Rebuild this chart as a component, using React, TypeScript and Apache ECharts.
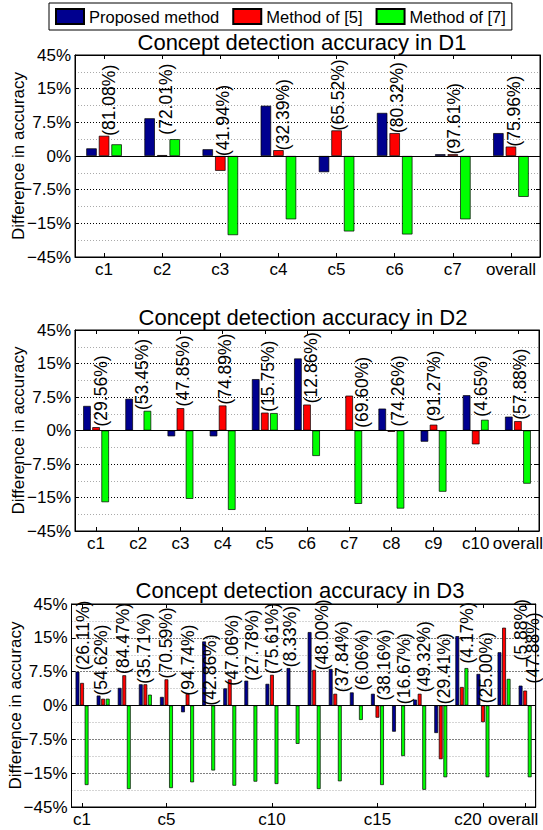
import React, { useEffect, useRef } from "react";
import * as echarts from "echarts";

const FONT = '"Liberation Sans", Arial, Helvetica, sans-serif';

const seriesNames = ["Proposed method", "Method of [5]", "Method of [7]"];
const seriesColors = ["#00008f", "#ff0000", "#00ff00"];

const yTickValues = [-45, -15, -7.5, 0, 7.5, 15, 45];
const yTickLabels = ["−45%", "−15%", "−7.5%", "0%", "7.5%", "15%", "45%"];
const yAxisTitle = "Difference in accuracy";

// ---- D1 ----
const d1Title = "Concept detection accuracy in D1";
const d1Categories = ["c1", "c2", "c3", "c4", "c5", "c6", "c7", "overall"];
const d1Proposed = [1.7, 8.4, 1.5, 11.2, -3.6, 9.6, 0.4, 5.1];
const d1Method5 = [4.5, 0.2, -3.3, 1.3, 5.7, 5.1, 0.4, 2.1];
const d1Method7 = [2.6, 3.75, -25.5, -14.1, -22.2, -24.9, -14.1, -9.1];
const d1Notes = ["(81.08%)", "(72.01%)", "(41.94%)", "(32.39%)", "(65.52%)", "(80.32%)", "(97.61%)", "(75.96%)"];
const d1NoteAt = [4.5, 4.75, 0, 1.3, 5.7, 5.1, 0.4, 2.1];
const d1NoteShift = [0.08, 0.07, 0.04, 0.07, 0.03, 0.04, 0.02, 0.05];

// ---- D2 ----
const d2Title = "Concept detection accuracy in D2";
const d2Categories = ["c1", "c2", "c3", "c4", "c5", "c6", "c7", "c8", "c9", "c10", "overall"];
const d2Proposed = [5.5, 7.1, -1.3, -1.3, 11.5, 19.5, 0, 4.9, -2.5, 7.9, 3.1];
const d2Method5 = [0.75, 0, 5.0, 5.6, 4.0, 5.8, 7.8, -0.3, 1.3, -3.1, 2.1];
const d2Method7 = [-19.2, 4.4, -16.2, -26.1, 3.9, -5.7, -20.7, -24.9, -13.7, 2.4, -11.9];
const d2Notes = ["(29.56%)", "(53.45%)", "(47.85%)", "(74.89%)", "(15.75%)", "(12.86%)", "(69.60%)", "(74.26%)", "(91.27%)", "(4.65%)", "(57.88%)"];
const d2NoteAt = [0.9, 4.6, 5.4, 5.8, 4.2, 6.1, 0.6, 0.9, 2.0, 3.1, 2.4];
const d2NoteShift = [0.12, 0.1, 0.06, 0.06, 0.07, 0.1, 0.31, 0.15, 0, 0.12, 0.05];

// ---- D3 ----
const d3Title = "Concept detection accuracy in D3";
const d3Categories = ["c1", "c2", "c3", "c4", "c5", "c6", "c7", "c8", "c9", "c10", "c11", "c12", "c13", "c14", "c15", "c16", "c17", "c18", "c19", "c20", "c21", "overall"];
const d3ShownCategories = ["c1", "c5", "c10", "c15", "c20", "overall"];
const d3Proposed = [7.5, 2.2, 3.9, 4.7, 1.9, -1.5, 14.2, 3.8, 5.5, 4.8, 8.3, 20.1, 8.1, 2.9, 2.6, -5.8, 1.3, -6.1, 16.5, 7.0, 11.8, 4.4];
const d3Method5 = [5.0, 1.5, 6.7, 4.7, 5.8, 2.6, 0, 5.8, 0, 6.8, 0, 7.9, 2.6, 0, -2.7, 0, 2.6, -11.9, 4.1, -3.7, 24.0, 3.3];
const d3Method7 = [-25.5, 1.5, -29.1, 2.4, -28.2, -23.1, -14.4, -26.1, -22.5, -24.6, -8.5, -29.1, -22.2, -3.2, -25.5, -11.2, -29.7, -18.6, 8.3, -18.6, 5.9, -18.6];
const d3Notes = ["(26.11%)", "(54.62%)", "(84.47%)", "(35.71%)", "(70.59%)", "(94.74%)", "(42.86%)", "(47.06%)", "(27.78%)", "(75.61%)", "(8.33%)", "(48.00%)", "(37.84%)", "(6.06%)", "(38.16%)", "(16.67%)", "(49.32%)", "(29.41%)", "(4.17%)", "(25.00%)", "(5.88%)", "(47.88%)"];
const d3NoteAt = [7.8, 2.2, 7.0, 4.8, 6.0, 2.2, 0, 4.4, 5.5, 7.0, 8.5, 7.8, 2.95, 3.3, 1.1, 0.3, 2.95, 0.3, 9.3, 0.5, 10, 4.9];
const d3NoteShift = [0.04, -0.1, -0.07, -0.08, 0, 0, 0.08, 0.1, 0.05, 0, -0.13, 0.37, 0.32, 0.26, 0.33, 0.27, 0.22, 0.17, 0.24, 0.14, 0.8, 0.36];

// piecewise mapping of a percentage onto the evenly spaced tick scale
function toUnit(v: number): number {
  const n = yTickValues.length;
  const mid = (n - 1) / 2;
  if (v <= yTickValues[0]) return -mid;
  for (let i = 0; i < n - 1; i++) {
    const a = yTickValues[i];
    const b = yTickValues[i + 1];
    if (v >= a && v <= b) return i + (v - a) / (b - a) - mid;
  }
  return mid;
}

type Panel = {
  title: string;
  cats: string[];
  values: number[][];
  notes: string[];
  noteAt: number[];
  noteShift: number[];
  shown: string[] | null;
  labelPad: Record<string, number>;
  left: number;
  top: number;
  width: number;
  height: number;
  titleX: number;
  titleTop: number;
};

const panels: Panel[] = [
  { title: d1Title, cats: d1Categories, values: [d1Proposed, d1Method5, d1Method7], notes: d1Notes, noteAt: d1NoteAt, noteShift: d1NoteShift, shown: null, labelPad: {}, left: 75, top: 55, width: 465, height: 202, titleX: 302, titleTop: 31 },
  { title: d2Title, cats: d2Categories, values: [d2Proposed, d2Method5, d2Method7], notes: d2Notes, noteAt: d2NoteAt, noteShift: d2NoteShift, shown: null, labelPad: {}, left: 75, top: 330, width: 464, height: 201, titleX: 303, titleTop: 306 },
  { title: d3Title, cats: d3Categories, values: [d3Proposed, d3Method5, d3Method7], notes: d3Notes, noteAt: d3NoteAt, noteShift: d3NoteShift, shown: d3ShownCategories, labelPad: { c20: 30, overall: 24 }, left: 71.5, top: 604, width: 464.2, height: 203, titleX: 300, titleTop: 579 },
];

function buildOption() {
  const mid = (yTickValues.length - 1) / 2;
  const grids: any[] = [];
  const xAxes: any[] = [];
  const yAxes: any[] = [];
  const series: any[] = [];
  const titles: any[] = [];

  panels.forEach((p, i) => {
    grids.push({ left: p.left, top: p.top, width: p.width, height: p.height, show: true, borderColor: "#000", borderWidth: 1, backgroundColor: "transparent", containLabel: false, outerBoundsMode: "none" });
    titles.push({ text: p.title, left: p.titleX, top: p.titleTop, textAlign: "center", padding: 0, textStyle: { fontSize: 22, fontWeight: "normal", color: "#000", fontFamily: FONT } });
    const intervalFn = p.shown ? (_idx: number, val: string) => (p.shown as string[]).indexOf(val) >= 0 : 0;
    const rich: Record<string, any> = {};
    Object.keys(p.labelPad).forEach((k, j) => {
      rich["s" + j] = { padding: [0, p.labelPad[k], 0, 0], fontSize: 17, color: "#000", fontFamily: FONT };
    });
    const padKeys = Object.keys(p.labelPad);
    const baseX = {
      type: "category",
      gridIndex: i,
      data: p.cats,
      axisLine: { show: true, onZero: false, lineStyle: { color: "#000", width: 1 } },
      axisTick: { show: true, inside: true, alignWithLabel: true, length: 4, interval: intervalFn, lineStyle: { color: "#000" } },
      splitLine: { show: false },
    };
    xAxes.push({
      ...baseX,
      position: "bottom",
      axisLabel: {
        show: true,
        interval: intervalFn,
        hideOverlap: false,
        color: "#000",
        fontSize: 17,
        fontFamily: FONT,
        margin: 4,
        formatter: (val: string) => {
          const j = padKeys.indexOf(val);
          return j >= 0 ? `{s${j}|${val}}` : val;
        },
        rich,
      },
    });
    xAxes.push({ ...baseX, position: "top", axisLabel: { show: false } });
    const baseY = {
      type: "value",
      gridIndex: i,
      min: -mid,
      max: mid,
      interval: 1,
      axisLine: { show: true, onZero: false, lineStyle: { color: "#000", width: 1 } },
      axisTick: { show: true, inside: true, length: 4, lineStyle: { color: "#000" } },
    };
    yAxes.push({
      ...baseY,
      position: "left",
      axisLabel: { show: true, color: "#000", fontSize: 17, fontFamily: FONT, margin: 4, formatter: (v: number) => yTickLabels[Math.round(v + mid)] },
      splitLine: { show: true, lineStyle: { color: "#000", width: 1, type: [1, 2] } },
      minorTick: { show: false, splitNumber: 2 },
      minorSplitLine: { show: true, lineStyle: { color: "#aaa", width: 1, type: [1, 2] } },
      name: yAxisTitle,
      nameLocation: "middle",
      nameGap: 48,
      nameMoveOverlap: false,
      nameTextStyle: { color: "#000", fontSize: 17, fontFamily: FONT },
    });
    yAxes.push({ ...baseY, position: "right", axisLabel: { show: false }, splitLine: { show: false } });

    p.values.forEach((vals, s) => {
      series.push({
        type: "bar",
        name: seriesNames[s],
        xAxisIndex: 2 * i,
        yAxisIndex: 2 * i,
        data: vals.map(toUnit),
        barWidth: "18%",
        barGap: "20%",
        itemStyle: { color: seriesColors[s], borderColor: "#000", borderWidth: 0.7 },
        markLine: s === 0 ? { silent: true, symbol: "none", label: { show: false }, lineStyle: { color: "#000", width: 1, type: "solid" }, data: [{ yAxis: 0 }] } : undefined,
      });
    });

    series.push({
      type: "custom",
      xAxisIndex: 2 * i,
      yAxisIndex: 2 * i,
      silent: true,
      clip: false,
      z: 10,
      data: p.notes.map((_n, k) => [k, toUnit(p.noteAt[k]), p.noteShift[k]]),
      encode: { x: 0, y: 1 },
      renderItem: (params: any, api: any) => {
        const pt = api.coord([api.value(0), api.value(1)]);
        const bw = api.size([1, 0])[0];
        return {
          type: "text",
          x: pt[0] + api.value(2) * bw,
          y: pt[1],
          rotation: Math.PI / 2,
          style: { text: p.notes[params.dataIndex], fill: "#000", fontSize: 17.5, fontFamily: FONT, align: "left", verticalAlign: "middle" },
        };
      },
    });
  });

  return {
    animation: false,
    backgroundColor: "#fff",
    textStyle: { fontFamily: FONT },
    title: titles,
    legend: {
      data: seriesNames,
      left: 49,
      top: 3,
      padding: [5, 6],
      itemGap: 13,
      itemWidth: 28,
      itemHeight: 15,
      icon: "rect",
      borderColor: "#000",
      borderWidth: 1,
      textStyle: { fontSize: 16.5, color: "#000", fontFamily: FONT },
    },
    grid: grids,
    xAxis: xAxes,
    yAxis: yAxes,
    series,
  };
}

export default function App() {
  const ref = useRef<HTMLDivElement>(null);
  useEffect(() => {
    if (!ref.current) return;
    const chart = echarts.init(ref.current, null, { renderer: "svg" });
    chart.setOption(buildOption() as any);
    return () => chart.dispose();
  }, []);
  return <div ref={ref} style={{ position: "absolute", left: 0, top: 0, width: 543, height: 830, background: "#fff" }} />;
}
